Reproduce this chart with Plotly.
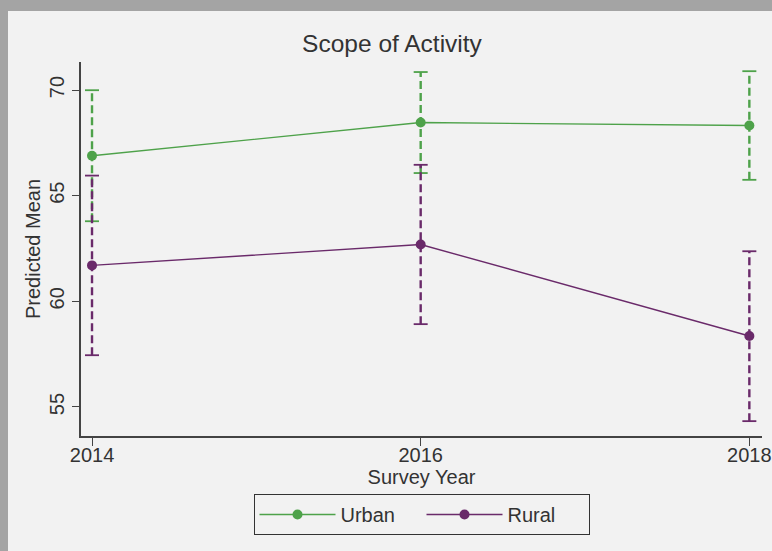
import plotly.graph_objects as go

years = [2014, 2016, 2018]
urban_mean = [66.89, 68.46, 68.32]
urban_lo = [63.79, 66.07, 65.75]
urban_hi = [69.99, 70.85, 70.89]
rural_mean = [61.70, 62.69, 58.36]
rural_lo = [57.45, 58.92, 54.33]
rural_hi = [65.95, 66.46, 62.37]

GREEN = "#4ea24a"
PURPLE = "#6a2a6a"
FONT = "Liberation Sans, Arial, sans-serif"

fig = go.Figure()

def add_ci(lo, hi, color):
    for x, l, h in zip(years, lo, hi):
        fig.add_trace(go.Scatter(
            x=[x, x], y=[l, h], mode="lines+markers",
            line=dict(color=color, width=2.4, dash="8px,4px"),
            marker=dict(symbol="line-ew", size=10, line=dict(color=color, width=1.8)),
            showlegend=False, hoverinfo="skip"))

add_ci(urban_lo, urban_hi, GREEN)
add_ci(rural_lo, rural_hi, PURPLE)

fig.add_trace(go.Scatter(x=years, y=urban_mean, mode="lines+markers", name="Urban",
                         line=dict(color=GREEN, width=1.4),
                         marker=dict(color=GREEN, size=10)))
fig.add_trace(go.Scatter(x=years, y=rural_mean, mode="lines+markers", name="Rural",
                         line=dict(color=PURPLE, width=1.4),
                         marker=dict(color=PURPLE, size=10)))

fig.update_layout(
    width=772, height=551,
    margin=dict(l=81, r=10, t=62, b=115, autoexpand=False),
    paper_bgcolor="#a4a4a4",
    plot_bgcolor="#f2f2f2",
    font=dict(family=FONT, color="#333333", size=20),
    title=dict(text="Scope of Activity", x=392 / 772, xref="container", xanchor="center",
               y=1 - 43 / 551, yref="container", yanchor="middle",
               font=dict(size=24.5, color="#333333")),
    showlegend=True,
    legend=dict(orientation="h", x=0.5, xanchor="center", y=-0.155, yanchor="top",
                bgcolor="#f2f2f2", bordercolor="#333333", borderwidth=1,
                font=dict(size=20, color="#333333"), itemwidth=76, entrywidth=76,
                tracegroupgap=0),
    shapes=[dict(type="rect", xref="paper", yref="paper",
                 x0=(8 - 81) / 681, x1=1.1, y0=-0.4, y1=(436 - 11) / 374,
                 fillcolor="#f2f2f2", line=dict(width=0), layer="below")],
)

fig.update_xaxes(range=[2013.933, 2018.077], tickvals=years, ticktext=[str(y) for y in years],
                 showgrid=False, zeroline=False, showline=True, linecolor="#444444", linewidth=1.6,
                 ticks="outside", ticklen=8, tickcolor="#444444", ticklabelstandoff=-8,
                 title=dict(text="Survey Year", standoff=1, font=dict(size=20)),
                 tickfont=dict(size=20))
fig.update_yaxes(range=[53.627, 71.325], tickvals=[55, 60, 65, 70],
                 showgrid=False, zeroline=False, showline=True, linecolor="#444444", linewidth=1.6,
                 ticks="outside", ticklen=7, tickcolor="#444444", tickangle=-90,
                 title=dict(text="Predicted Mean", standoff=0, font=dict(size=20)),
                 tickfont=dict(size=20))

fig.write_html("out.html")
